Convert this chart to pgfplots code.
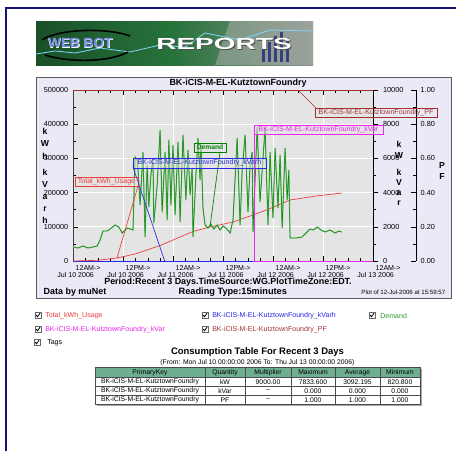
\documentclass[border=0pt]{standalone}
\usepackage{pgfplots}
\pgfplotsset{compat=1.18}
\usepackage{fontspec}
\setmainfont{Liberation Sans}
\definecolor{panelbg}{RGB}{234,234,246}
\definecolor{plotbg}{RGB}{228,228,228}
\definecolor{frm}{RGB}{20,20,120}
\definecolor{tred}{RGB}{235,60,60}
\definecolor{tblue}{RGB}{40,40,230}
\definecolor{tgreen}{RGB}{0,130,0}
\definecolor{tlgreen}{RGB}{125,190,125}
\definecolor{tmag}{RGB}{235,40,235}
\definecolor{tpf}{RGB}{165,50,50}
\definecolor{hdr}{RGB}{110,175,145}
\definecolor{bnL}{RGB}{25,80,40}
\definecolor{bnM}{RGB}{40,115,60}
\definecolor{bnR}{RGB}{135,145,135}
\newcommand\fs[1]{\fontsize{#1}{#1}\selectfont}
\newcommand\cbox[2]{\draw[gray!80!black, fill=white, line width=0.4pt] (#1,#2) rectangle ++(6,6);
  \draw[black, line width=0.6pt] (#1+1.2,#2+3) -- (#1+2.5,#2+4.8) -- (#1+5,#2+1.2);}
\begin{document}
\begin{tikzpicture}
\begin{scope}[x=0.75pt,y=-0.75pt]
\fill[white] (0,0) rectangle (456,458);
\draw[frm, line width=1.5pt] (6,451) -- (6,8) -- (456,8);
% banner
\shade[left color=bnL, right color=bnR, middle color=bnM] (36,21) rectangle (313,65);
\fill[gray!60, opacity=0.5] (230,21) -- (313,21) -- (313,65) -- (215,65) -- cycle;
\foreach \bx/\bh in {262/14, 268/20, 274/26, 280/30, 286/24}{\fill[blue!45!black, opacity=0.6] (\bx,62) rectangle ++(3,-\bh);}
\draw[cyan!50!white, line width=0.6pt] (36,54) -- (55,51) -- (75,53) -- (100,48) -- (130,52) -- (160,45) -- (185,47) -- (205,33) -- (240,40) -- (270,30) -- (313,31);
\draw[black, line width=1.2pt] (42,40) .. controls (60,28) and (110,28) .. (130,36);
\draw[black, line width=1.2pt] (45,55) .. controls (70,63) and (110,62) .. (128,52);
\node[text=white, font=\bfseries\fs{10.5}] at (64.5,43.5) {WEB};
\node[text=white, font=\bfseries\fs{10.5}] at (98.5,43.5) {BOT};
\node[text={rgb,255:red,120;green,140;blue,235}, font=\bfseries\fs{10}] at (64,43) {WEB};
\node[text={rgb,255:red,120;green,140;blue,235}, font=\bfseries\fs{10}] at (98,43) {BOT};
\node[text=gray!60!black, font=\bfseries\fs{12}] at (225,44.5) {\scalebox{1.75}[1]{REPORTS}};
\node[text=white, font=\bfseries\fs{12}] at (224,43.5) {\scalebox{1.75}[1]{REPORTS}};
% panel
\draw[gray!70!black, fill=panelbg, line width=0.5pt] (36,77) rectangle (451,298);
\end{scope}

% main axis: kWh
\begin{axis}[
  at={(54.75pt,-195.75pt)}, anchor=south west,
  scale only axis, width=225pt, height=128.25pt,
  xmin=0, xmax=72, ymin=0, ymax=500000,
  axis background/.style={fill=plotbg},
  axis line style={draw=black!75, line width=0.4pt},
  grid=major, major grid style={white, line width=0.7pt},
  xtick={0,12,24,36,48,60,72},
  minor xtick={3,6,9,15,18,21,27,30,33,39,42,45,51,54,57,63,66,69},
  xtick pos=both, xticklabel pos=lower,
  ytick={0,100000,200000,300000,400000,500000},
  minor ytick={50000,150000,250000,350000,450000},
  ytick pos=left,
  tick align=inside,
  major tick length=4pt, minor tick length=2pt,
  tick style={black, line width=0.4pt},
  scaled y ticks=false,
  /pgf/number format/fixed, /pgf/number format/1000 sep={},
  /pgf/number format/assume math mode=true,
  yticklabel style={font=\fs{5.5}},
  xticklabels={{\makebox[0pt][l]{12AM->}\\Jul 10 2006},{\makebox[0pt][l]{12PM->}\\Jul 10 2006},{\makebox[0pt][l]{12AM->}\\Jul 11 2006},{\makebox[0pt][l]{12PM->}\\Jul 11 2006},{\makebox[0pt][l]{12AM->}\\Jul 12 2006},{\makebox[0pt][l]{12PM->}\\Jul 12 2006},{\makebox[0pt][l]{12AM->}\\Jul 13 2006}},
  xticklabel style={align=center, font=\fs{5.3}, xshift=2pt},
  clip=false,
]
\addplot[tblue, line width=0.5pt] coordinates {(0,0) (64.5,0)};
\addplot[tred, line width=0.5pt] coordinates {
(0,0) (5.8,2000) (10.6,8800) (14.9,20500) (20.9,45300) (28.8,86300) (32.9,99400)
(38.4,114000) (43.2,134500) (47.3,153500) (52.1,178400) (58.3,190000) (64.5,198800)};
\end{axis}

% kW axis
\begin{axis}[
  at={(54.75pt,-195.75pt)}, anchor=south west,
  scale only axis, width=225pt, height=128.25pt,
  xmin=0, xmax=72, ymin=0, ymax=10000,
  axis x line=none, axis y line*=right,
  axis line style={draw=black, line width=0.4pt},
  ytick={0,2000,4000,6000,8000,10000},
  minor ytick={1000,3000,5000,7000,9000},
  tick align=outside, major tick length=4pt, minor tick length=2pt,
  tick style={black, line width=0.4pt},
  scaled y ticks=false,
  /pgf/number format/fixed, /pgf/number format/1000 sep={},
  /pgf/number format/assume math mode=true,
  yticklabel style={font=\fs{5.5}},
  clip=false,
]
\addplot[tlgreen, line width=0.9pt] coordinates {
(0,819) (1.2,760) (2.4,877) (3.6,760) (4.8,819) (5.8,877) (6.5,1228) (7.2,1754) (8.2,1754) (8.9,1871) (10.1,2105) (11.0,1988) (11.8,1637) (13.0,1930) (14.4,1813)
(14.9,6082) (15.4,5906) (15.6,5322) (16.1,3275) (16.8,6374) (17.3,1404) (17.8,5614) (18.2,3158) (18.7,5029) (19.2,6023) (19.4,2222) (20.2,4444) (20.9,7661) (21.4,2866) (22.1,6374) (22.6,2398) (23.0,7076) (23.5,3275) (24.0,6784) (24.5,2690) (25.2,6959) (25.7,2281) (26.4,7368) (27.1,3567) (27.6,6491) (28.1,3860) (28.6,5439) (28.8,1404) (29.5,5029) (30.0,7193) (30.5,4737) (30.7,6901) (31.2,3099) (31.7,2105)
(32.4,1930) (33.1,2164) (33.8,1871) (34.6,2105) (35.3,1813) (36.0,2047) (36.7,1930) (37.7,1637) (38.4,2398)
(39.4,7193) (40.1,2105) (40.6,5322) (41.3,7368) (42.0,2866) (42.5,5614) (43.0,6374) (43.2,1696) (43.7,4737) (44.2,7834) (44.9,3450) (45.4,5322) (46.1,7778) (46.8,2105) (47.3,6374) (48.0,2515) (48.5,6608) (49.2,3099) (49.7,6199) (50.2,1930) (50.9,6608) (51.4,3567) (51.8,5322)
(52.1,1345) (53.5,1345) (55.0,1404) (55.9,1637) (56.9,1871) (57.8,1813) (58.6,1988) (59.5,1813) (60.5,1696) (61.7,1813) (62.9,1637) (63.8,1754) (64.5,1696)};
\addplot[tgreen, line width=0.35pt] coordinates {
(0,819) (1.2,760) (2.4,877) (3.6,760) (4.8,819) (5.8,877) (6.5,1228) (7.2,1754) (8.2,1754) (8.9,1871) (10.1,2105) (11.0,1988) (11.8,1637) (13.0,1930) (14.4,1813)
(14.9,6082) (15.4,5906) (15.6,5322) (16.1,3275) (16.8,6374) (17.3,1404) (17.8,5614) (18.2,3158) (18.7,5029) (19.2,6023) (19.4,2222) (20.2,4444) (20.9,7661) (21.4,2866) (22.1,6374) (22.6,2398) (23.0,7076) (23.5,3275) (24.0,6784) (24.5,2690) (25.2,6959) (25.7,2281) (26.4,7368) (27.1,3567) (27.6,6491) (28.1,3860) (28.6,5439) (28.8,1404) (29.5,5029) (30.0,7193) (30.5,4737) (30.7,6901) (31.2,3099) (31.7,2105)
(32.4,1930) (33.1,2164) (33.8,1871) (34.6,2105) (35.3,1813) (36.0,2047) (36.7,1930) (37.7,1637) (38.4,2398)
(39.4,7193) (40.1,2105) (40.6,5322) (41.3,7368) (42.0,2866) (42.5,5614) (43.0,6374) (43.2,1696) (43.7,4737) (44.2,7834) (44.9,3450) (45.4,5322) (46.1,7778) (46.8,2105) (47.3,6374) (48.0,2515) (48.5,6608) (49.2,3099) (49.7,6199) (50.2,1930) (50.9,6608) (51.4,3567) (51.8,5322)
(52.1,1345) (53.5,1345) (55.0,1404) (55.9,1637) (56.9,1871) (57.8,1813) (58.6,1988) (59.5,1813) (60.5,1696) (61.7,1813) (62.9,1637) (63.8,1754) (64.5,1696)};
\addplot[tmag, line width=0.6pt] coordinates {(43.2,0) (72,0)};
\end{axis}

% PF axis
\begin{axis}[
  at={(54.75pt,-195.75pt)}, anchor=south west,
  scale only axis, width=257.25pt, height=128.25pt,
  xmin=0, xmax=82.32, ymin=0, ymax=1,
  axis x line=none, axis y line*=right,
  axis line style={draw=black, line width=0.4pt},
  ytick={0,0.2,0.4,0.6,0.8,1},
  minor ytick={0.1,0.3,0.5,0.7,0.9},
  tick align=inside, major tick length=4pt, minor tick length=2pt,
  tick style={black, line width=0.4pt},
  /pgf/number format/fixed, /pgf/number format/precision=2, /pgf/number format/fixed zerofill,
  /pgf/number format/assume math mode=true,
  yticklabel style={font=\fs{5.5}},
  clip=false,
]
\addplot[tpf, line width=0.6pt] coordinates {(0,1) (72,1)};
\end{axis}

\begin{scope}[x=0.75pt,y=-0.75pt]
% title and axis titles
\node[font=\bfseries\fs{6.7}] at (238,83) {BK-iCIS-M-EL-KutztownFoundry};
\node[align=center, inner sep=0pt, font={\bfseries\fontsize{6.5}{9.4}\selectfont}] at (45,143.5) {k\\W\\h};
\node[align=center, inner sep=0pt, font={\bfseries\fontsize{6.5}{9}\selectfont}] at (45,196) {k\\V\\a\\r\\h};
\node[align=center, inner sep=0pt, font={\bfseries\fontsize{6.5}{8}\selectfont}] at (399,150) {k\\W};
\node[align=center, inner sep=0pt, font={\bfseries\fontsize{6.5}{7.5}\selectfont}] at (399,187) {k\\V\\a\\r};
\node[align=center, inner sep=0pt, font={\bfseries\fontsize{6.5}{8}\selectfont}] at (442,171) {P\\F};
% tags
\draw[tred, line width=0.5pt] (117,258) -- (138,186);
\draw[tred, line width=0.5pt, fill=plotbg, fill opacity=0.6] (75,177) rectangle (138,186);
\node[text=tred, font=\fs{5.3}] at (106.5,181.5) {Total\_kWh\_Usage};
\draw[tblue, line width=0.5pt] (133,167) -- (165,262);
\draw[tblue, line width=0.5pt, fill=plotbg, fill opacity=0.5] (133,158) rectangle (266,168);
\node[text=tblue, font=\fs{5.3}] at (199.5,163) {BK-iCIS-M-EL-KutztownFoundry\_kVarh};
\draw[tgreen, line width=0.5pt] (220,152) -- (210,227);
\draw[tgreen, line width=0.5pt, fill=plotbg, fill opacity=0.5] (194,143) rectangle (226,152);
\node[text=tgreen, font=\bfseries\fs{5}] at (210,147.5) {Demand};
\draw[tmag, line width=0.6pt] (254,125) -- (254,262);
\draw[tmag, line width=0.5pt, fill=plotbg, fill opacity=0.5] (254,125) rectangle (383,134);
\node[text=tmag, font=\fs{5.3}] at (318.5,129.5) {BK-iCIS-M-EL-KutztownFoundry\_kVar};
\draw[tpf, line width=0.5pt] (298,90) -- (316,108);
\draw[tpf, line width=0.5pt] (315,108) rectangle (437,117);
\node[text=tpf, font=\fs{5.3}] at (376,112.5) {BK-iCIS-M-EL-KutztownFoundry\_PF};
% footer of panel
\node[font=\bfseries\fs{6.7}] at (228,282) {Period:Recent 3 Days.TimeSource:WG.PlotTimeZone:EDT.};
\node[font=\bfseries\fs{6.7}, anchor=west] at (39,292) {Data by muNet};
\node[font=\bfseries\fs{6.9}, anchor=west] at (174,292) {Reading Type:15minutes};
\node[font=\fs{4.6}, anchor=east] at (450,292.5) {Plot of 12-Jul-2006 at 15:59:57};
% legend
\cbox{35}{312}\node[text=tred, font=\fs{5.3}, anchor=west, inner sep=0pt] at (45,315.5) {Total\_kWh\_Usage};
\cbox{202}{312}\node[text=tblue, font=\fs{5.3}, anchor=west, inner sep=0pt] at (212,315.5) {BK-iCIS-M-EL-KutztownFoundry\_kVarh};
\cbox{369}{312}\node[text=tgreen!80!white, font=\fs{5.3}, anchor=west, inner sep=0pt] at (380,315.5) {Demand};
\cbox{35}{326}\node[text=tmag, font=\fs{5.3}, anchor=west, inner sep=0pt] at (45,329.5) {BK-iCIS-M-EL-KutztownFoundry\_kVar};
\cbox{202}{326}\node[text=tpf, font=\fs{5.3}, anchor=west, inner sep=0pt] at (212,329.5) {BK-iCIS-M-EL-KutztownFoundry\_PF};
\cbox{34}{339}\node[text=black, font=\fs{5.3}, anchor=west, inner sep=0pt] at (47,342.5) {Tags};
% table
\node[font=\bfseries\fs{7.1}] at (257.5,352.5) {Consumption Table For Recent 3 Days};
\node[font=\fs{5.1}] at (257.5,363) {(From: Mon Jul 10 00:00:00 2006 To: Thu Jul 13 00:00:00 2006)};
\fill[gray!70] (96.5,369) rectangle (421.5,406);
\fill[hdr] (95,367.5) rectangle (420,377.5);
\fill[white] (95,377.5) rectangle (420,404.5);
\draw[gray!60!black, line width=0.4pt] (95,367.5) rectangle (420,404.5);
\foreach \yy in {377.5,386.5,395.5} \draw[gray!60!black, line width=0.4pt] (95,\yy) -- (420,\yy);
\foreach \xx in {205,245,291,335,380} \draw[gray!60!black, line width=0.4pt] (\xx,367.5) -- (\xx,404.5);
\foreach \cx/\t in {150/PrimaryKey,225/Quantity,268/Multiplier,313/Maximum,357.5/Average,400/Minimum}
  \node[font=\fs{5.1}] at (\cx,372.5) {\t};
\foreach \yy/\q/\m/\a/\b/\c in {382/kW/9000.00/7833.600/3092.195/820.800, 391/kVar/--/0.000/0.000/0.000, 400/PF/--/1.000/1.000/1.000}{
  \node[font=\fs{5.1}] at (150,\yy) {BK-iCIS-M-EL-KutztownFoundry};
  \node[font=\fs{5.1}] at (225,\yy) {\q};
  \node[font=\fs{5.1}] at (268,\yy) {\m};
  \node[font=\fs{5.1}] at (313,\yy) {\a};
  \node[font=\fs{5.1}] at (357.5,\yy) {\b};
  \node[font=\fs{5.1}] at (400,\yy) {\c};
}
\end{scope}
\pgfresetboundingbox
\path[use as bounding box] (0,0) rectangle (342pt,-343.5pt);
\end{tikzpicture}
\end{document}
